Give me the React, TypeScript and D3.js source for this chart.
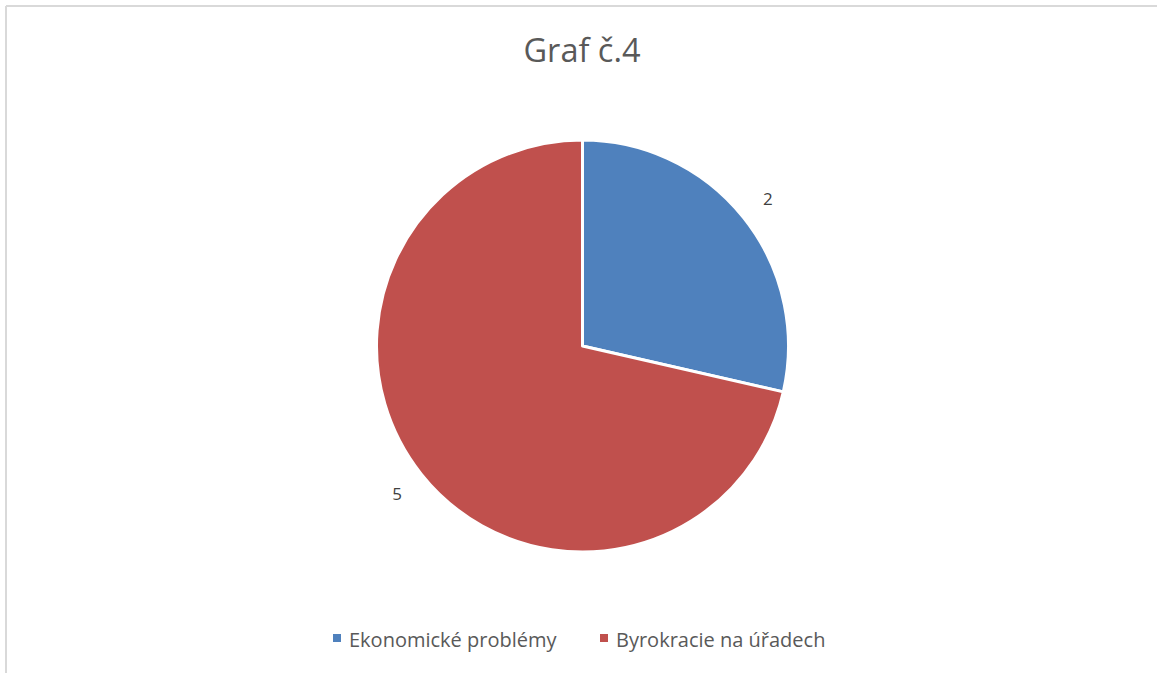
import React from "react";
import * as d3 from "d3";

const categories = ["Ekonomické problémy", "Byrokracie na úřadech"];
const values = [2, 5];
const colors = ["#4f81bd", "#c0504d"];
const title = "Graf č.4";

export default function App() {
  const w = 1157;
  const h = 673;
  const cx = 582.5;
  const cy = 346;
  const radius = 206;

  const pie = d3.pie<number>().sort(null).value((d) => d);
  const arcs = pie(values);
  const arcGen = d3.arc<d3.PieArcDatum<number>>().innerRadius(0).outerRadius(radius);
  const labelArc = d3.arc<d3.PieArcDatum<number>>().innerRadius(radius + 31).outerRadius(radius + 31);

  const font = "'Open Sans', sans-serif";

  // legend layout
  const legendY = 647;
  const legendX = [333, 600];

  return (
    <div style={{ position: "absolute", left: 0, top: 0 }}>
      <svg width={w} height={h} style={{ display: "block", background: "#fff" }}>
        <line x1={6} y1={6} x2={w} y2={6} stroke="#d9d9d9" strokeWidth={2} />
        <line x1={6} y1={6} x2={6} y2={h} stroke="#d9d9d9" strokeWidth={2} />
        <text x={582} y={62} textAnchor="middle" fontFamily={font} fontSize={32.5} fill="#595959">
          {title}
        </text>
        <g transform={`translate(${cx},${cy})`}>
          {arcs.map((a, i) => (
            <path key={i} d={arcGen(a) || ""} fill={colors[i]} stroke="#fff" strokeWidth={3} strokeLinejoin="round" />
          ))}
          {arcs.map((a, i) => {
            const [x, y] = labelArc.centroid(a);
            return (
              <text key={i} x={x} y={y} textAnchor="middle" dominantBaseline="central" fontFamily={font} fontSize={17} fill="#404040">
                {a.data}
              </text>
            );
          })}
        </g>
        {categories.map((c, i) => (
          <g key={c} transform={`translate(${legendX[i]},${legendY})`}>
            <rect x={0} y={-13} width={8} height={8} fill={colors[i]} />
            <text x={16} y={0} fontFamily={font} fontSize={20} fill="#595959">
              {c}
            </text>
          </g>
        ))}
      </svg>
    </div>
  );
}
